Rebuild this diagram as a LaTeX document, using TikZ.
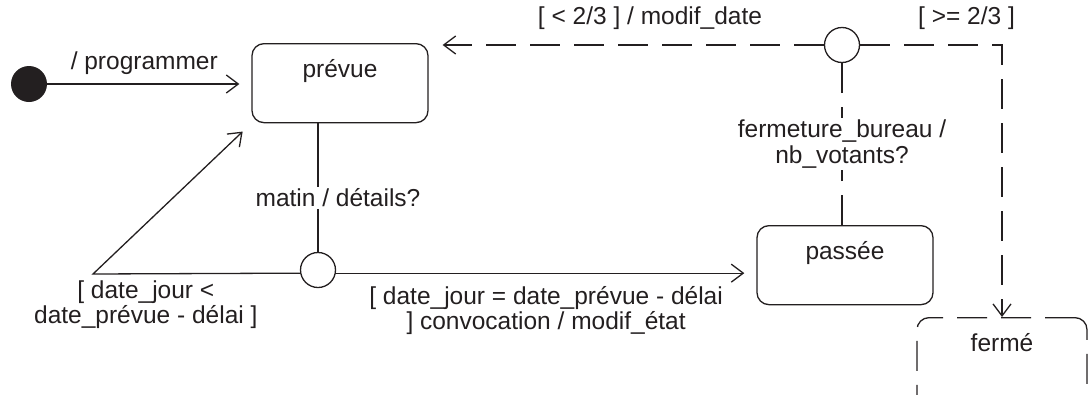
\documentclass[tikz,border=0pt]{standalone}
\usepackage{fontspec}
\setmainfont{Liberation Sans}
\usetikzlibrary{arrows.meta,calc}
\definecolor{ink}{RGB}{35,31,32}
\tikzset{
  every node/.style={font=\fontsize{24.5}{25.5}\selectfont, text=ink},
  line/.style={draw=ink, line width=1.3pt},
  dsh/.style={line, dash pattern=on 30pt off 14pt},
  arr/.style={-{Straight Barb[length=12pt,width=18pt,line width=1.3pt]}, shorten >=12pt},
  state/.style={draw=ink, line width=1.3pt, rounded corners=12pt, anchor=north,
    minimum width=176pt, inner xsep=0pt, inner ysep=15.5pt,
    text height=18pt, text depth=30pt},
  junction/.style={circle, draw=ink, line width=1.3pt, minimum size=35pt, inner sep=0pt},
  lbl/.style={align=center, inner sep=2pt},
}
\begin{document}
\begin{tikzpicture}[x=1pt, y=-1pt]
  \useasboundingbox (0,0) rectangle (1088,394);
  \clip (0,0) rectangle (1088,394);

  % states
  \node[state] (prev) at (340,43) {prévue};
  \node[state] (pas) at (845,225) {passée};
  \node[state, dash pattern=on 30pt off 14pt, minimum width=170pt, text depth=70pt] (ferme) at (1002,317) {fermé};

  % pseudo-states
  \node[circle, fill=ink, minimum size=36pt, inner sep=0pt] (init) at (29,84) {};
  \node[junction] (j1) at (318,270) {};
  \node[junction] (j2) at (842,45) {};
  \coordinate (bend) at (93,274);

  % initial transition
  \draw[line, arr] (init) -- node[midway, xshift=-5pt, yshift=21pt] {/ programmer} (init -| prev.west);

  % prévue -> choice
  \draw[line] (j1 |- prev.south) -- node[pos=0.58, xshift=20pt, fill=white, lbl] {matin / détails?} (j1);

  % choice -> back to prévue
  \draw[line, arr] (j1.190) -- node[pos=0.745, yshift=-31pt, lbl] {[ date\_jour <\\date\_prévue - délai ]} (bend) -- (prev.south west);

  % choice -> passée
  \draw[line, arr] (j1.-10) -- node[midway, yshift=-37.5pt, lbl] {[ date\_jour = date\_prévue - délai\\] convocation / modif\_état} (j1.-10 -| pas.west);

  % passée -> vote choice
  \draw[dsh] (pas.north -| j2) -- node[midway, fill=white, lbl] {fermeture\_bureau /\\nb\_votants?} (j2);

  % vote choice -> prévue
  \draw[dsh, arr, shorten >=14pt] (j2) -- node[pos=0.44, yshift=27pt] {[ < 2/3 ] / modif\_date} (j2 -| prev.east);

  % vote choice -> fermé
  \draw[dsh, -{Straight Barb[length=12pt,width=18pt,line width=1.3pt]}] (j2) -- node[pos=0.75, yshift=27pt] {[ >= 2/3 ]} (j2 -| ferme.north) -- (ferme.north);
\end{tikzpicture}
\end{document}
